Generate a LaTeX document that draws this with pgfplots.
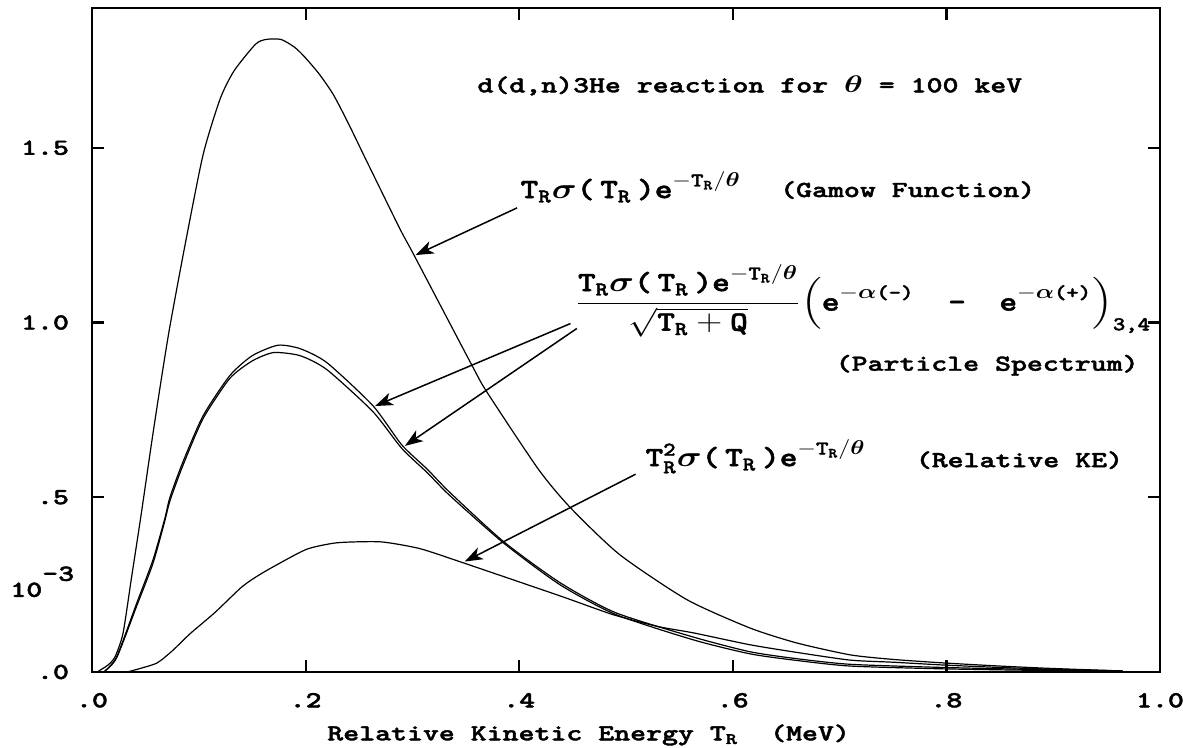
\documentclass[border=0pt]{standalone}
\usepackage{amsmath}
\usepackage{graphicx}
\usepackage{fontspec}
\usepackage{pgfplots}
\pgfplotsset{compat=1.18}
\usetikzlibrary{arrows.meta}

% heavy typewriter face, set wide
\newfontfamily\cour{lmmonolt10-bold.otf}[FakeBold=1.6]
\newcommand{\cw}[1]{\scalebox{1.32}[1]{\cour #1}}
\newcommand{\tb}[1]{\text{\cour #1}}
\newcommand{\TR}{\tb{T}_{\tb{R}}}
\newcommand{\lbl}{\fontsize{11.5}{13}\selectfont}
\newcommand{\frm}{\fontsize{14}{16}\selectfont}

% Gamow function  T_R sigma(T_R) exp(-T_R/theta)
\pgfplotstableread{
x y
0.005 0
0.0075 0.005
0.015 0.02
0.0215 0.043
0.029 0.11
0.037 0.27
0.046 0.45
0.056 0.66
0.065 0.84
0.073 0.99
0.087 1.22
0.104 1.48
0.12 1.64
0.133 1.72
0.153 1.796
0.163 1.81
0.177 1.81
0.19 1.787
0.2 1.757
0.213 1.71
0.226 1.652
0.24 1.57
0.257 1.463
0.288 1.27
0.302 1.19
0.356 0.876
0.37 0.80
0.418 0.58
0.448 0.47
0.494 0.336
0.557 0.207
0.616 0.126
0.66 0.083
0.71 0.049
0.75 0.036
0.797 0.026
0.85 0.017
0.9 0.010
0.965 0.003
}\gamow

% particle spectrum, first detector pair
\pgfplotstableread{
x y
0.011 0
0.023 0.043
0.042 0.198
0.057 0.32
0.068 0.437
0.073 0.50
0.085 0.60
0.104 0.733
0.129 0.848
0.15 0.905
0.174 0.935
0.195 0.925
0.22 0.885
0.263 0.762
0.29 0.65
0.314 0.58
0.335 0.514
0.385 0.374
0.438 0.256
0.49 0.17
0.563 0.10
0.616 0.058
0.66 0.038
0.71 0.022
0.797 0.013
0.9 0.006
0.965 0.002
}\partA

% particle spectrum, second detector pair
\pgfplotstableread{
x y
0.011 0
0.023 0.04
0.042 0.19
0.057 0.31
0.068 0.43
0.073 0.49
0.085 0.59
0.104 0.725
0.129 0.84
0.15 0.89
0.17 0.914
0.195 0.905
0.22 0.865
0.263 0.745
0.29 0.64
0.314 0.57
0.335 0.505
0.385 0.37
0.438 0.25
0.49 0.165
0.563 0.092
0.616 0.052
0.66 0.033
0.71 0.017
0.797 0.009
0.9 0.004
0.965 0.002
}\partB

% relative kinetic energy  T_R^2 sigma(T_R) exp(-T_R/theta)
\pgfplotstableread{
x y
0.033 0
0.045 0.01
0.061 0.026
0.075 0.06
0.092 0.11
0.115 0.17
0.139 0.24
0.15 0.265
0.165 0.293
0.2 0.35
0.225 0.368
0.243 0.372
0.272 0.372
0.307 0.353
0.347 0.313
0.438 0.218
0.488 0.164
0.53 0.13
0.563 0.112
0.616 0.078
0.66 0.056
0.71 0.034
0.75 0.028
0.797 0.02
0.85 0.013
0.9 0.008
0.965 0.003
}\relke

\begin{document}
\begin{tikzpicture}
\begin{axis}[
  name=ax,
  scale only axis,
  width=534pt, height=332pt,
  xmin=0, xmax=1, ymin=0, ymax=1.9,
  clip=false,
  axis line style={line width=1.3pt},
  tick style={line width=1.1pt, black},
  major tick length=6pt,
  tick align=inside,
  xtick={0,0.2,0.4,0.6,0.8,1.0},
  xticklabels={\cw{.0},\cw{.2},\cw{.4},\cw{.6},\cw{.8},\cw{1.0}},
  ytick={0,0.5,1,1.5},
  yticklabels={\cw{.0},\cw{.5},\cw{1.0},\cw{1.5}},
  xticklabel style={font=\lbl, yshift=-7pt},
  yticklabel style={font=\lbl, xshift=-8pt},
  curve/.style={black, line width=0.6pt, mark=none, smooth, tension=0.4},
]
\addplot[curve] table[x=x,y=y] {\gamow};
\addplot[curve] table[x=x,y=y] {\partA};
\addplot[curve] table[x=x,y=y] {\partB};
\addplot[curve] table[x=x,y=y] {\relke};

% arrows pointing at the curves
\draw[line width=0.75pt, -{Stealth[length=9pt,width=6.5pt,inset=2.5pt]}]
  (axis cs:0.398,1.328) -- (axis cs:0.303,1.193);
\draw[line width=0.75pt, -{Stealth[length=9pt,width=6.5pt,inset=2.5pt]}]
  (axis cs:0.448,0.997) -- (axis cs:0.265,0.761);
\draw[line width=0.75pt, -{Stealth[length=9pt,width=6.5pt,inset=2.5pt]}]
  (axis cs:0.454,0.983) -- (axis cs:0.293,0.647);
\draw[line width=0.75pt, -{Stealth[length=9pt,width=6.5pt,inset=2.5pt]}]
  (axis cs:0.509,0.566) -- (axis cs:0.349,0.316);

% annotations
\node[font=\lbl] at (axis cs:0.616,1.678)
  {\cw{d(d,n)3He reaction for $\boldsymbol{\theta}$ = 100 keV}};
\node[font=\frm, anchor=base west, inner sep=0pt] at (axis cs:0.401,1.356)
  {\scalebox{1.2}[1]{$\TR\boldsymbol{\sigma}\tb{(}\,\TR\,\tb{)e}^{-\TR/\boldsymbol{\theta}}$}};
\node[font=\lbl, anchor=base west, inner sep=0pt] at (axis cs:0.644,1.359)
  {\cw{(Gamow Function)}};
\node[font=\frm, anchor=base west, inner sep=0pt] at (axis cs:0.452,1.034)
  {\scalebox{1.2}[1]{$\displaystyle\frac{\TR\boldsymbol{\sigma}\tb{(}\,\TR\,\tb{)e}^{-\TR/\boldsymbol{\theta}}}{\sqrt{\TR+\tb{Q}}}\Bigl(\tb{e}^{-\boldsymbol{\alpha}\tb{(-)}}\quad\tb{-}\quad\tb{e}^{-\boldsymbol{\alpha}\tb{(+)}}\Bigr)_{\tb{3,4}}$}};
\node[font=\lbl, anchor=base west, inner sep=0pt] at (axis cs:0.696,0.862)
  {\cw{(Particle Spectrum)}};
\node[font=\frm, anchor=base west, inner sep=0pt] at (axis cs:0.518,0.589)
  {\scalebox{1.2}[1]{$\tb{T}_{\tb{R}}^{\tb{2}}\boldsymbol{\sigma}\tb{(}\,\TR\,\tb{)e}^{-\TR/\boldsymbol{\theta}}$}};
\node[font=\lbl, anchor=base west, inner sep=0pt] at (axis cs:0.771,0.586)
  {\cw{(Relative KE)}};
\node[font=\lbl, anchor=base west, inner sep=0pt] at ([xshift=-41pt]axis cs:0,0.215)
  {\cw{10\raisebox{8pt}{-3}}};
\node[font=\lbl] at ([yshift=-31.5pt]axis cs:0.465,0)
  {\cw{Relative Kinetic Energy T$_{\tb{R}}$\ \ (MeV)}};
\end{axis}
\pgfresetboundingbox
\path ([xshift=-46pt,yshift=-38pt]ax.south west) rectangle ([xshift=11.5pt,yshift=4pt]ax.north east);
\end{tikzpicture}
\end{document}
